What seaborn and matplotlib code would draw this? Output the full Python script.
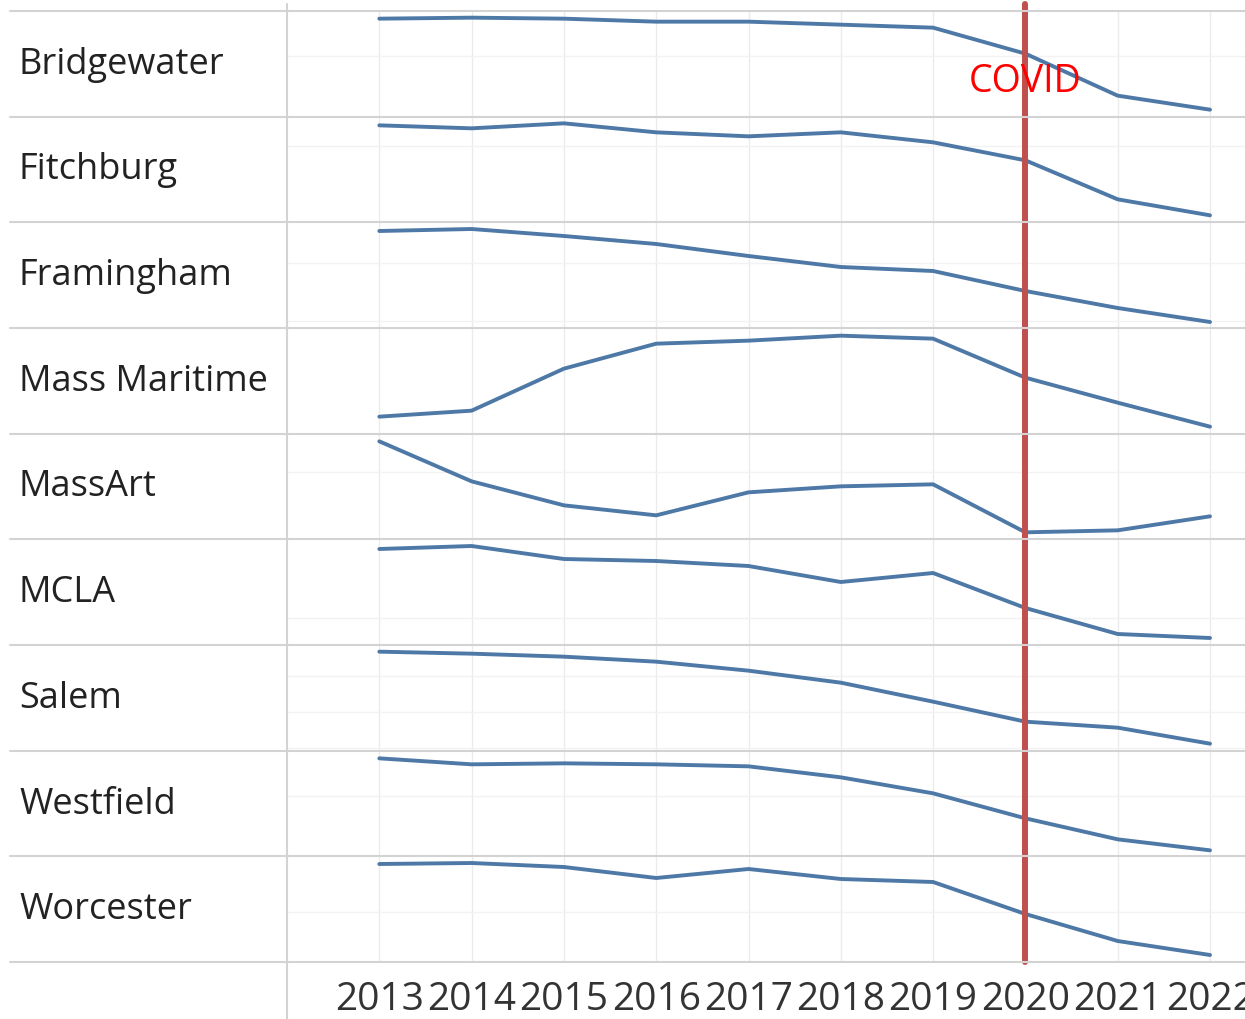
import pandas as pd
import matplotlib.pyplot as plt
import seaborn as sns
from matplotlib.lines import Line2D

# Data: each school's trend, scaled to its own panel (0 = bottom, ~106 = top)
years = [2013, 2014, 2015, 2016, 2017, 2018, 2019, 2020, 2021, 2022]
schools = ["Bridgewater", "Fitchburg", "Framingham", "Mass Maritime", "MassArt",
           "MCLA", "Salem", "Westfield", "Worcester"]

bridgewater = [98, 99, 98, 95, 95, 92, 89, 63, 21, 7]
fitchburg = [97, 94, 99, 90, 86, 90, 80, 62, 23, 7]
framingham = [97, 99, 92, 84, 72, 61, 57, 37, 20, 6]
mass_maritime = [17, 23, 65, 90, 93, 98, 95, 56, 31, 7]
massart = [98, 58, 34, 24, 47, 53, 55, 7, 9, 23]
mcla = [96, 99, 86, 84, 79, 63, 72, 37, 11, 7]
salem = [99, 97, 94, 89, 80, 68, 49, 29, 23, 7]
westfield = [98, 92, 93, 92, 90, 79, 63, 38, 17, 6]
worcester = [98, 99, 95, 84, 93, 83, 80, 48, 21, 7]

series = [bridgewater, fitchburg, framingham, mass_maritime, massart,
          mcla, salem, westfield, worcester]

# faint horizontal gridlines inside each panel
grid_vals = [[61], [76], [65, 7], [], [67], [27], [75, 39, 3], [60], [50]]

covid_year = 2020
covid_label = "COVID"

rows = []
for name, vals in zip(schools, series):
    for y, v in zip(years, vals):
        rows.append({"school": name, "year": y, "value": v})
df = pd.DataFrame(rows)

sns.set_style("white")
plt.rcParams['font.family'] = ['Open Sans', 'DejaVu Sans']

W, H = 1245, 1020
fig = plt.figure(figsize=(W / 100, H / 100), dpi=100)

left_px = 287
top_px = 12
row_h = (963 - 12) / 9
year_px = 92.3
ax_w = year_px * 11

line_color = "#4E79A7"
red = "#C0504D"
sep_color = "#D3D3D3"

for i, name in enumerate(schools):
    top = top_px + i * row_h
    ax = fig.add_axes([left_px / W, 1 - (top + row_h) / H, ax_w / W, row_h / H])
    sub = df[df["school"] == name]
    sns.lineplot(data=sub, x="year", y="value", ax=ax, color=line_color,
                 linewidth=2.8, zorder=3)
    ax.set_xlim(2012, 2023)
    ax.set_ylim(0, row_h)
    ax.set_xlabel("")
    ax.set_ylabel("")
    for s in ax.spines.values():
        s.set_visible(False)
    ax.set_xticks(years)
    ax.set_yticks(grid_vals[i])
    ax.grid(axis="x", color="#EBEBEB", linewidth=1)
    ax.grid(axis="y", color="#F2F2F2", linewidth=1)
    ax.tick_params(axis="y", length=0, labelleft=False)
    if i == len(schools) - 1:
        ax.tick_params(axis="x", length=5, color="#E6E6E6", width=1,
                       labelsize=28, labelcolor="#333333", pad=8)
    else:
        ax.tick_params(axis="x", length=0, labelbottom=False)

    ymax = 1.0
    if i == 0:
        ymax = (row_h + top_px - 5) / row_h
        ax.text(covid_year, 36, covid_label, color="#FF0000", fontsize=27,
                ha="center", va="center", zorder=6)
    ax.axvline(covid_year, ymin=0, ymax=ymax, color=red, linewidth=4.3,
               zorder=5, clip_on=False)

    fig.text(19 / W, 1 - (top + row_h / 2) / H, name, fontsize=26,
             color="#222222", va="center", ha="left")

# row separators
for i in range(len(schools) + 1):
    y = 1 - (top_px + i * row_h) / H
    fig.add_artist(Line2D([10 / W, 1], [y, y], transform=fig.transFigure,
                          color=sep_color, linewidth=1.5))

# left border of the plot area
fig.add_artist(Line2D([left_px / W, left_px / W], [0, 1 - 5 / H],
                      transform=fig.transFigure, color=sep_color, linewidth=1.5))

fig.savefig("out.png", dpi=100)
